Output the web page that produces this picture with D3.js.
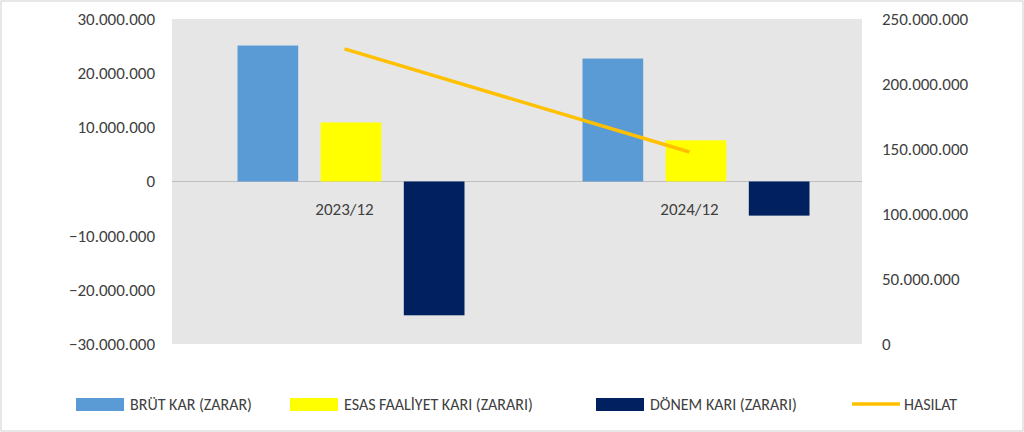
<!DOCTYPE html><html><head><meta charset="utf-8">
<script src="https://cdn.jsdelivr.net/npm/d3@7"></script>
<style>body{margin:0;background:#fff}text{font-family:Calibri,Carlito,"Liberation Sans",Arial,sans-serif}</style></head><body>
<svg id="c" width="1024" height="432"></svg>
<script>
const categories=["2023/12","2024/12"];
const brut=[25100000,22700000];
const esas=[10900000,7600000];
const donem=[-24700000,-6300000];
const hasilat=[227000000,147700000];
const leftTicks=[-30000000,-20000000,-10000000,0,10000000,20000000,30000000];
const rightTicks=[0,50000000,100000000,150000000,200000000,250000000];
const seriesNames=["BRÜT KAR (ZARAR)","ESAS FAALİYET KARI (ZARARI)","DÖNEM KARI (ZARARI)","HASILAT"];
const colors=["#5b9bd5","#ffff00","#002060","#ffc000"];

const svg=d3.select("#c");
const L=172,R=862,T=19,B=344;
svg.append("rect").attr("x",1).attr("y",1).attr("width",1022).attr("height",430).attr("fill","#fff").attr("stroke","#d0d0d0");
svg.append("rect").attr("x",L).attr("y",T).attr("width",R-L).attr("height",B-T).attr("fill","#e6e6e6");
const x=d3.scaleBand().domain(categories).range([L,R]);
const y=d3.scaleLinear().domain([-30000000,30000000]).range([B,T]);
const y2=d3.scaleLinear().domain([0,250000000]).range([B,T]);
const fmt=d=>d3.format(",")(d).replace(/,/g,".");
const ya=svg.append("g").attr("transform",`translate(${L},0)`).call(d3.axisLeft(y).tickValues(leftTicks).tickFormat(fmt).tickSize(0).tickPadding(17));
ya.select(".domain").remove();
ya.selectAll("text").attr("font-size",17).attr("fill","#404040");
const yb=svg.append("g").attr("transform",`translate(${R},0)`).call(d3.axisRight(y2).tickValues(rightTicks).tickFormat(fmt).tickSize(0).tickPadding(20));
yb.select(".domain").remove();
yb.selectAll("text").attr("font-size",17).attr("fill","#404040");
svg.append("line").attr("x1",L).attr("x2",R).attr("y1",y(0)).attr("y2",y(0)).attr("stroke","#bfbfbf");
const sub=d3.scaleBand().domain([0,1,2]).range([-107,120]).paddingInner(0.27);
[brut,esas,donem].forEach((arr,i)=>{
  svg.selectAll(null).data(arr).enter().append("rect")
   .attr("x",(d,j)=>x(categories[j])+x.bandwidth()/2+sub(i))
   .attr("width",sub.bandwidth())
   .attr("y",d=>y(Math.max(0,d))).attr("height",d=>Math.abs(y(d)-y(0)))
   .attr("fill",colors[i]);
});
svg.selectAll(null).data(categories).enter().append("text")
 .attr("x",d=>x(d)+x.bandwidth()/2).attr("y",215).attr("text-anchor","middle")
 .attr("font-size",17).attr("fill","#404040").text(d=>d);
svg.append("path").datum(hasilat).attr("fill","none").attr("stroke",colors[3]).attr("stroke-width",3.5)
 .attr("d",d3.line().x((d,j)=>x(categories[j])+x.bandwidth()/2).y(d=>y2(d)));
const lx=[76,290,596,852];
seriesNames.forEach((n,i)=>{
  const g=svg.append("g").attr("transform",`translate(${lx[i]},404)`);
  if(i<3) g.append("rect").attr("x",0).attr("y",-6).attr("width",48).attr("height",13).attr("fill",colors[i]);
  else g.append("line").attr("x1",0).attr("x2",48).attr("y1",0).attr("y2",0).attr("stroke",colors[i]).attr("stroke-width",3.5);
  g.append("text").attr("x",i<3?54:52).attr("y",6).attr("font-size",16).attr("fill","#404040").text(n);
});
</script></body></html>
